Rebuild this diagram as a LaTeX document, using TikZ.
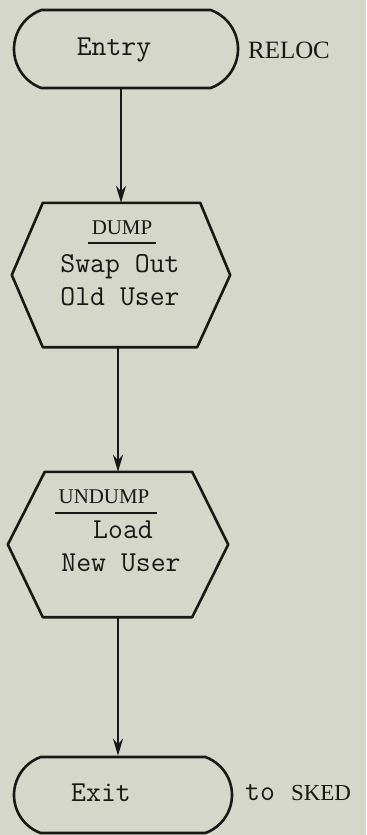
\documentclass[tikz,border=0pt]{standalone}
\usepackage{fontspec}
\newfontfamily\labelserif{Liberation Serif}
\usetikzlibrary{arrows.meta,shapes.misc}

\definecolor{paper}{RGB}{213,215,202}
\definecolor{ink}{RGB}{24,24,22}

\tikzset{
  terminal/.style={rounded rectangle, rounded rectangle arc length=140,
    draw=ink, line width=2.6bp, minimum height=78bp, inner sep=0pt},
  procbox/.style={inner sep=0pt},
  hexline/.style={draw=ink, line width=2.6bp, line join=round},
  tt/.style={text=ink, font=\fontsize{29}{31}\selectfont\ttfamily\addfontfeature{FakeBold=0.8}, inner sep=0pt},
  title/.style={text=ink, font=\fontsize{21}{24}\selectfont\labelserif, inner sep=1pt},
  side/.style={text=ink, font=\fontsize{25}{28}\selectfont\labelserif, inner sep=0pt},
  flow/.style={draw=ink, line width=2.6bp, -{Stealth[length=17bp,width=10bp]}},
  bar/.style={draw=ink, line width=1.8bp}
}

\begin{document}
\begin{tikzpicture}[x=1bp,y=-1bp]
  % page
  \fill[paper] (0,0) rectangle (366,835);
  \useasboundingbox (0,0) rectangle (366,835);

  % entry terminal
  \node[terminal, minimum width=224bp] (entry) at (126,49) {};
  \node[tt] (entrytxt) at (114,50) {Entry};
  \node[side, anchor=west] (reloc) at (248,50) {RELOC};

  % DUMP step
  \node[procbox, minimum width=218bp, minimum height=144bp] (h1) at (121,275) {};
  \path[hexline] (h1.west) -- ([xshift=31bp]h1.north west) -- ([xshift=-30bp]h1.north east)
     -- (h1.east) -- ([xshift=-33bp]h1.south east) -- ([xshift=31bp]h1.south west) -- cycle;
  \node[title] (dump) at (122,228) {DUMP};
  \draw[bar] (88,243) -- (156,243);
  \node[tt] (swap) at (120,267) {Swap Out};
  \node[tt] (olduser) at (120,297) {Old User};

  % UNDUMP step
  \node[procbox, minimum width=220bp, minimum height=145bp] (h2) at (118,544.5) {};
  \path[hexline] (h2.west) -- ([xshift=37bp]h2.north west) -- ([xshift=-36bp]h2.north east)
     -- (h2.east) -- ([xshift=-36bp]h2.south east) -- ([xshift=35bp]h2.south west) -- cycle;
  \node[title] (undump) at (104,497) {UNDUMP};
  \draw[bar] (55,513) -- (157,513);
  \node[tt] (load) at (123,530) {Load};
  \node[tt] (newuser) at (121,563) {New User};

  % exit terminal
  \node[terminal, minimum width=218bp, minimum height=76bp] (exit) at (123,795) {};
  \node[tt] (exittxt) at (101,793) {Exit};
  \node[tt, anchor=west] (to) at (245,793) {to};
  \node[side, font=\fontsize{23}{26}\selectfont\labelserif, anchor=west] (sked) at (291,793) {SKED};

  % connectors
  \draw[flow] (entry.south -| h1.north) -- (h1.north);
  \draw[flow] (h1.south -| h2.north) -- (h2.north);
  \draw[flow] (h2.south) -- (h2.south |- exit.north);
\end{tikzpicture}
\end{document}
